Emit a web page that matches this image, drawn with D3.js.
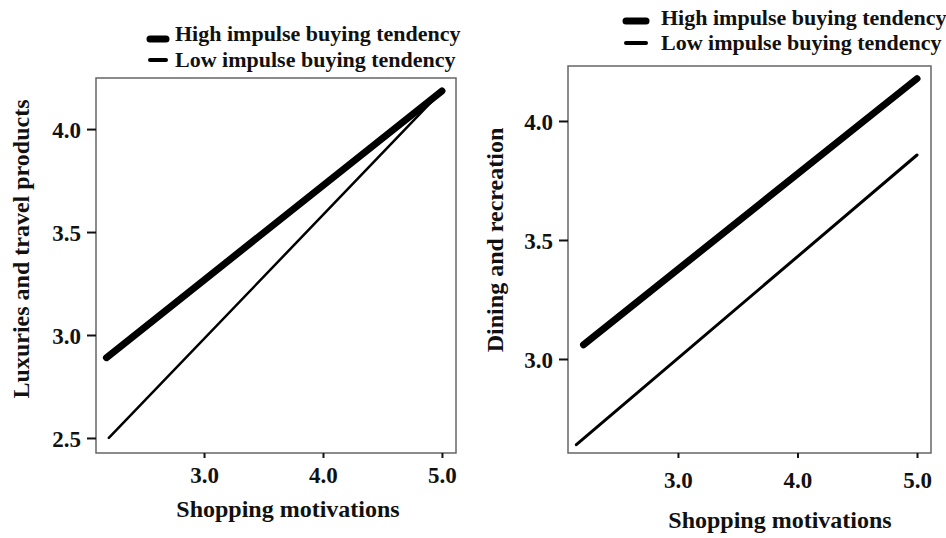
<!DOCTYPE html>
<html>
<head>
<meta charset="utf-8">
<script src="https://cdn.jsdelivr.net/npm/d3@7"></script>
<style>
  body { margin: 0; background: #fff; }
  text { font-family: "Liberation Serif", "Times New Roman", serif; font-weight: bold; fill: #111; }
</style>
</head>
<body>
<div id="chart"></div>
<script>
// values
var xTicks = [3.0, 4.0, 5.0];
var luxTicks = [2.5, 3.0, 3.5, 4.0];
var dinTicks = [3.0, 3.5, 4.0];

var luxHighX = [2.18, 5.0], luxHighY = [2.89, 4.185];
var luxLowX = [2.2, 5.0],   luxLowY = [2.5, 4.185];
var dinHighX = [2.21, 5.0], dinHighY = [3.06, 4.178];
var dinLowX = [2.15, 5.0],  dinLowY = [2.64, 3.857];

var legendLabels = ["High impulse buying tendency", "Low impulse buying tendency"];

var svg = d3.select("#chart").append("svg")
    .attr("width", 946)
    .attr("height", 538);

// one panel
function panel(opt) {
    var x = d3.scaleLinear().domain(opt.xDomain).range([opt.left, opt.right]);
    var y = d3.scaleLinear().domain(opt.yDomain).range([opt.bottom, opt.top]);
    var g = svg.append("g");

    // frame
    g.append("rect")
        .attr("x", opt.left).attr("y", opt.top)
        .attr("width", opt.right - opt.left)
        .attr("height", opt.bottom - opt.top)
        .attr("fill", "none")
        .attr("stroke", "#666")
        .attr("stroke-width", 1.5);

    // y axis
    var yAxis = g.append("g")
        .attr("transform", "translate(" + opt.left + ",0)")
        .call(d3.axisLeft(y).tickValues(opt.yTicks).tickFormat(d3.format(".1f")).tickSize(9).tickPadding(6));
    yAxis.select(".domain").remove();
    yAxis.selectAll("line").attr("stroke", "#111").attr("stroke-width", 2);
    yAxis.selectAll("text")
        .attr("x", -15).attr("dy", "0.35em")
        .attr("text-anchor", "end")
        .attr("fill", "#111")
        .style("font-size", "23px")
        .style("font-family", "Liberation Serif")
        .style("font-weight", "bold");

    // x axis
    var xAxis = g.append("g")
        .attr("transform", "translate(0," + opt.bottom + ")")
        .call(d3.axisBottom(x).tickValues(xTicks).tickFormat(d3.format(".1f")).tickSize(5));
    xAxis.select(".domain").remove();
    xAxis.selectAll("line").attr("stroke", "#111").attr("stroke-width", 2);
    xAxis.selectAll("text")
        .attr("y", opt.xLabOff).attr("dy", 0)
        .attr("fill", "#111")
        .style("font-size", "23px")
        .style("font-family", "Liberation Serif")
        .style("font-weight", "bold");

    var line = d3.line().x(function(d) { return x(d[0]); }).y(function(d) { return y(d[1]); });

    // high tendency
    g.append("path")
        .datum(d3.zip(opt.highX, opt.highY))
        .attr("d", line)
        .attr("fill", "none").attr("stroke", "#000")
        .attr("stroke-width", 7).attr("stroke-linecap", "round");

    // low tendency
    g.append("path")
        .datum(d3.zip(opt.lowX, opt.lowY))
        .attr("d", line)
        .attr("fill", "none").attr("stroke", "#000")
        .attr("stroke-width", opt.lowWidth).attr("stroke-linecap", "round");

    // titles
    g.append("text")
        .attr("x", opt.xTitleX).attr("y", opt.xTitleY)
        .attr("text-anchor", "middle")
        .style("font-size", "24px")
        .text("Shopping motivations");

    g.append("text")
        .attr("transform", "translate(" + opt.yTitleX + "," + opt.yTitleY + ") rotate(-90)")
        .attr("text-anchor", "middle")
        .style("font-size", "24px")
        .text(opt.yTitle);

    // legend
    legendLabels.forEach(function(lab, i) {
        g.append("line")
            .attr("x1", opt.legX).attr("x2", opt.legX + opt.legLen)
            .attr("y1", opt.symY[i]).attr("y2", opt.symY[i])
            .attr("stroke", "#000")
            .attr("stroke-width", i == 0 ? 7 : 4)
            .attr("stroke-linecap", "round");
        g.append("text")
            .attr("x", opt.legTextX)
            .attr("y", opt.textY[i])
            .style("font-size", "22px")
            .text(lab);
    });
}

panel({
    left: 96, right: 456, top: 78, bottom: 453,
    xDomain: [2.092, 5.118], yDomain: [2.427, 4.248],
    yTicks: luxTicks, xLabOff: 30,
    highX: luxHighX, highY: luxHighY, lowX: luxLowX, lowY: luxLowY, lowWidth: 2.5,
    xTitleX: 288, xTitleY: 517,
    yTitleX: 29, yTitleY: 249, yTitle: "Luxuries and travel products",
    legX: 150, legLen: 16, legTextX: 175, symY: [39, 60], textY: [41, 67]
});

panel({
    left: 568, right: 931, top: 66, bottom: 453,
    xDomain: [2.08, 5.117], yDomain: [2.605, 4.231],
    yTicks: dinTicks, xLabOff: 35,
    highX: dinHighX, highY: dinHighY, lowX: dinLowX, lowY: dinLowY, lowWidth: 3,
    xTitleX: 780, xTitleY: 528,
    yTitleX: 503, yTitleY: 240, yTitle: "Dining and recreation",
    legX: 626, legLen: 20, legTextX: 661, symY: [21, 43], textY: [25, 50]
});
</script>
</body>
</html>
